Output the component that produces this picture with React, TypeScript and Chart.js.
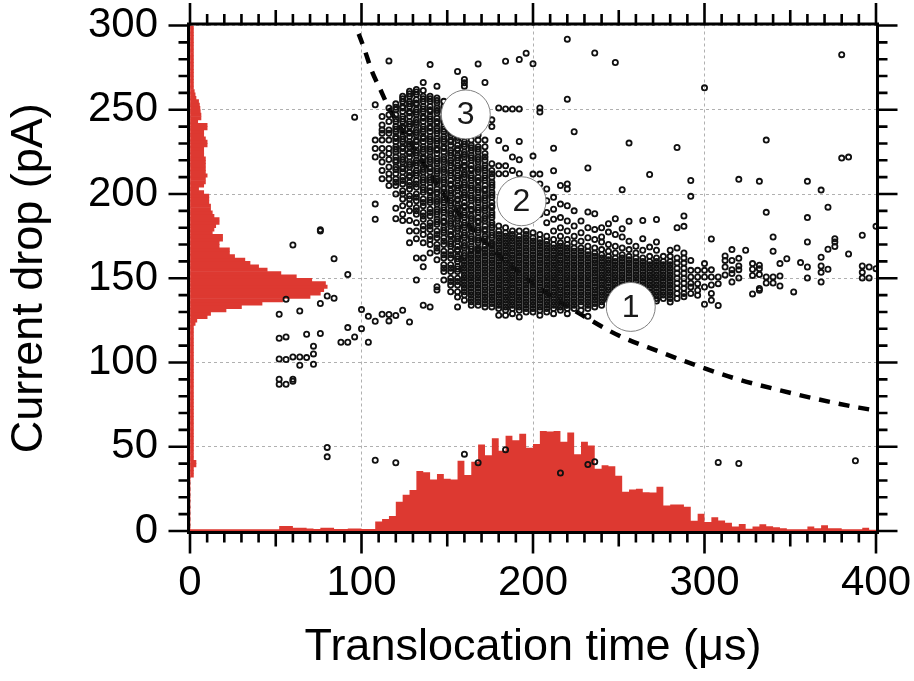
import React, { useEffect, useRef } from 'react';
import { Chart, registerables } from 'chart.js';

Chart.register(...registerables);

const FONT = '"Liberation Sans", Arial, Helvetica, sans-serif';
const RED = 'rgb(221, 57, 49)';

// Translocation-time histogram: counts per 4 µs bin, first bin starts at 0 µs
const timeBinWidth = 4;
const timeCounts = [
  1, 1, 1, 1, 1, 1, 1, 1, 1, 1, 1, 1, 1,
  3, 3, 2, 2, 1.5, 1.2, 2, 2, 1.2, 1.2, 1.5, 1.5, 1.2, 1.2,
  5.7, 7.1, 8.9, 17.4, 21.5, 24.3, 35.6, 34.8, 30.6, 33.8, 31, 30.6, 41.7, 33.2, 41.1,
  51.4, 45, 55, 47.6, 56.5, 53.8, 57.7, 49.4, 51.6, 59.3, 59.1, 59.3, 53, 58.5, 45.5,
  53, 50.8, 37, 39, 38.5, 32.8, 23.3, 24.7, 25.1, 23, 22.9, 26.3, 15.2, 15.8, 15.8,
  14.4, 6.1, 10.3, 5.3, 8.1, 6.3, 4.9, 2.6, 4.2, 1.4, 2.6, 4, 2.8, 2.2, 1.6, 1, 1, 1,
  2.6, 1.6, 3.4, 1.6, 1.6, 1, 1, 1, 2, 0.8,
];

// Current-drop histogram: counts per 2 pA bin, first bin starts at 0 pA
const dropBinWidth = 2;
const dropCounts = [
  0, 0, 0, 0, 0, 0, 0, 0, 0, 0, 0, 0, 0, 0, 0, 0,
  2, 2, 2, 3.5, 3.5,
  2, 2, 2, 2, 2, 2, 2, 2, 2, 2, 2, 2, 2, 2, 2, 2, 2, 2, 2, 2,
  2, 2, 2, 2, 2, 2, 2, 2, 2, 2, 2, 2, 2, 2, 2, 2, 2, 2, 2, 2,
  3, 4, 10, 12, 21, 30, 42, 54, 70, 76, 78, 80, 79, 71, 62, 53, 45, 40, 35, 32,
  26, 23, 23, 17, 17, 19, 19, 13, 14, 15, 17, 17, 14, 13, 12, 12, 11, 11, 11,
  8, 5, 8, 9, 9, 10, 9, 9, 9, 9, 9, 8, 8, 8, 10, 10, 9, 8, 8, 10, 10,
  4.5, 6.4, 6.4, 6, 5.8, 5.5, 5, 3.5, 3, 2.5,
  2, 2, 2, 2, 2, 2, 2, 2, 2, 2, 2, 2, 2, 2, 2, 2, 2, 2, 2,
];

// Isolated short events (time µs, drop pA)
const sparseEvents: [number, number][] = [
  [52, 128.6], [52, 114.4], [52, 102.1], [52, 90.1], [52, 87.1],
  [56, 137.5], [56, 115.2], [56, 101.8], [56, 87.1],
  [60, 169.7], [60, 103.3], [60, 90.1], [60, 88.9],
  [64, 130.6], [64, 103.3], [64, 98.4],
  [68, 116.8], [68, 102.9],
  [72, 109.7], [72, 105.1], [72, 99],
  [76, 178.8], [76, 178], [76, 135], [76, 117.2],
  [80, 139.5], [80, 49.6], [80, 44],
  [84, 161.6], [84, 138.1],
  [88, 112],
  [92, 152.2], [92, 120.7], [92, 112],
  [96, 245.6], [96, 115.2],
  [100, 131.4], [100, 120.1],
  [104, 127.4], [104, 112],
];

// Events grouped by sampled dwell time (µs) -> current drops (pA)
const clusterColumns: [number, number[]][] = [
  [108, [253, 232, 227, 222, 194, 185, 124.5, 42]],
  [112, [246, 241, 238, 236, 232, 227, 223, 219, 214, 209, 128.6]],
  [116, [279, 251, 247, 243, 238, 236, 232, 227, 224, 220.5, 216, 212, 209, 205, 128.5, 124.7]],
  [120, [253.5, 250, 247, 243, 240, 237, 234, 231, 228, 225, 222, 219, 216, 212, 209, 205, 200, 191.5, 185.3, 127.9, 40.5]],
  [124, [258, 255, 252, 249, 246, 243, 240, 237, 234, 231, 228, 225, 222, 219, 216, 213, 210, 206, 202, 197, 193, 188, 184.3, 131]],
  [128, [261, 258, 255, 252, 249, 246, 243, 240, 237, 234, 231, 228, 225, 222, 219, 216, 213, 210, 207, 203, 199, 194, 190, 184.3, 178, 171, 124]],
  [132, [262, 259, 256, 253, 250, 247, 244, 241, 238, 235, 232, 229, 226, 223, 220, 217, 214, 211, 208, 204, 200, 196, 192, 188, 183, 178, 173.5, 162, 149]],
  [136, [266.2, 261.4, 258, 255, 252, 249, 246, 243, 240, 237, 234, 231, 228, 225, 222, 219, 216, 213, 210, 207, 204, 201, 197, 193, 189, 185, 181, 176, 171, 162, 156.8, 134]],
  [140, [276.8, 258, 255, 252, 249, 246, 243, 240, 237, 234, 231, 228, 225, 222, 219, 216, 213, 210, 207, 204, 201, 198, 195, 191, 187, 183, 179, 175, 170, 165, 133]],
  [144, [264, 257, 254, 251, 248, 245, 242, 239, 236, 233, 230, 227, 224, 221, 218, 215, 212, 209, 206, 203, 200, 197, 194, 191, 188, 185, 182, 178, 174, 170, 166, 161, 145, 143]],
  [148, [255, 252, 249, 246, 243, 240, 237, 234, 231, 228, 225, 222, 219, 216, 213, 210, 207, 204, 201, 198, 195, 192, 189, 186, 183, 180, 177, 174, 170, 166, 162, 158, 154, 149]],
  [152, [253, 250, 247, 244, 241, 238, 235, 232, 229, 226, 223, 220, 217, 214, 211, 208, 205, 202, 199, 196, 193, 190, 187, 184, 181, 178, 175, 172, 169, 166, 162, 158, 154, 150, 146, 142]],
  [156, [272.7, 250, 247, 244, 241, 238, 235, 232, 229, 226, 223, 220, 217, 214, 211, 208, 205, 202, 199, 196, 193, 190, 187, 184, 181, 178, 175, 172, 169, 166, 163, 160, 157, 154, 150, 146, 142, 138.8, 133]],
  [160, [268, 266, 264, 258, 246, 234, 231, 228, 225, 222, 219, 216, 213, 210, 207, 204, 201, 198, 195, 192, 189, 186, 183, 180, 177, 174, 171, 168, 165, 162, 160, 158, 156, 154, 152, 150, 148, 146, 144, 142, 140, 137, 45.6]],
  [164, [232, 229, 226, 223, 220, 217, 214, 211, 208, 205, 202, 199, 196, 193, 190, 187, 184, 181, 178, 175, 172, 169, 166, 164, 162, 160, 158, 156, 154, 152, 150, 148, 146, 144, 142, 140, 138, 136, 134]],
  [168, [277.2, 235, 232, 228, 225, 222, 219, 216, 213, 210, 207, 204, 201, 198, 195, 192, 189, 186, 183, 180, 177, 174, 171, 168, 166, 164, 162, 160, 158, 156, 154, 152, 150, 148, 146, 144, 142, 140, 138, 136, 134, 40.5]],
  [172, [266.2, 232, 228, 224, 220, 217, 214, 211, 208, 205, 202, 199, 196, 193, 190, 187, 184, 181, 178, 175, 172, 169, 167, 165, 163, 161, 159, 157, 155, 153, 151, 149, 147, 145, 143, 141, 139, 137, 135, 133]],
  [176, [244, 240, 218, 214, 210, 207, 204, 201, 198, 195, 192, 189, 186, 183, 180, 177, 174, 171, 169, 167, 165, 163, 161, 159, 157, 155, 153, 151, 149, 147, 145, 143, 141, 139, 137, 135, 133]],
];

// Repeat events in the crowded part of the long-dwell population
const clusterRepeats: [number, number[]][] = [
  [120, [251.5, 244.5, 238.5, 233, 226.5, 220, 214.5, 207]],
  [124, [256.5, 251, 244.5, 239, 232.5, 227, 220.5, 215, 208, 200]],
  [128, [259.5, 253.5, 248, 241.5, 236, 229.5, 224, 217.5, 211, 205, 197]],
  [132, [260.5, 254, 248.5, 242.5, 236.5, 231, 224.5, 218.5, 212.5, 206, 198, 190]],
  [136, [256.5, 250.5, 245, 238.5, 233, 226.5, 221, 214.5, 208.5, 202.5, 195, 187, 179]],
  [140, [256.5, 250, 244.5, 239, 232.5, 226.5, 220.5, 215, 208.5, 202, 196.5, 189, 181, 173]],
  [144, [255.5, 249.5, 243, 237.5, 231.5, 226, 219.5, 213.5, 207.5, 201, 195.5, 189.5, 183.5, 176, 168]],
  [148, [250.5, 244, 238.5, 232.5, 227, 220.5, 214.5, 208.5, 203, 196.5, 190.5, 184, 178.5, 172, 164, 156]],
  [152, [248.5, 242.5, 236.5, 231, 224.5, 218.5, 212.5, 206, 200.5, 194.5, 188.5, 182.5, 176, 170.5, 164, 156, 148]],
  [156, [245.5, 239.5, 233.5, 227, 221.5, 215.5, 209.5, 203.5, 197, 191.5, 185.5, 179.5, 173.5, 167, 161.5, 155.5, 148]],
  [160, [229.5, 223.5, 217, 211.5, 205.5, 199.5, 193, 187.5, 181.5, 175.5, 169.5, 163.5]],
  [164, [227.5, 221.5, 215, 209.5, 203.5, 197.5, 191, 185.5, 179.5, 173.5, 167.5]],
  [168, [226.5, 220.5, 214.5, 208, 202.5, 196.5, 190.5, 184, 178.5, 172.5, 167]],
  [172, [222, 215.5, 209.5, 203, 197.5, 191.5, 185.5, 179, 173.5]],
  [176, [212, 205.5, 199.5, 193, 187.5, 181.5, 175.5, 170]],
];

const bandColumns: [number, number[]][] = [
  [180, [251.1, 231.8, 216.7, 212, 181, 178, 176, 174, 172, 170, 168, 166, 164, 162, 160, 158, 156, 154, 152, 150, 148, 146, 144, 142, 140, 138, 136, 134, 132, 128]],
  [184, [278.8, 250.5, 227.2, 216.7, 212, 180, 177, 175, 173, 171, 169, 167, 165, 163, 161, 159, 157, 155, 153, 151, 149, 147, 145, 143, 141, 139, 137, 135, 133, 131, 128, 48.2]],
  [188, [250.5, 222, 214, 178, 176, 174, 172, 170, 168, 166, 164, 162, 160, 158, 156, 154, 152, 150, 148, 146, 144, 142, 140, 138, 136, 134, 132, 129]],
  [192, [279.8, 250.5, 231.2, 220.3, 212, 178, 175, 173, 171, 169, 167, 165, 163, 161, 159, 157, 155, 153, 151, 149, 147, 145, 143, 141, 139, 137, 135, 133, 131, 127]],
  [196, [283.6, 178, 176, 174, 172, 170, 168, 166, 164, 162, 160, 158, 156, 154, 152, 150, 148, 146, 144, 142, 140, 138, 136, 134, 132, 130]],
  [200, [277.3, 222.5, 211.8, 177, 174, 172, 170, 168, 166, 164, 162, 160, 158, 156, 154, 152, 150, 148, 146, 144, 142, 140, 138, 136, 134, 132, 130]],
  [204, [251, 248.6, 211.8, 206, 188, 176, 173, 171, 169, 167, 165, 163, 161, 159, 157, 155, 153, 151, 149, 147, 145, 143, 141, 139, 137, 135, 133, 131, 128]],
  [208, [203, 196, 189, 183, 175, 172, 170, 168, 166, 164, 162, 160, 158, 156, 154, 152, 150, 148, 146, 144, 142, 140, 138, 136, 134, 132, 130]],
  [212, [227.2, 213.8, 198, 191, 185, 178, 173, 170, 168, 166, 164, 162, 160, 158, 156, 154, 152, 150, 148, 146, 144, 142, 140, 138, 136, 134, 132, 129]],
  [216, [205, 194, 186, 180, 175, 171, 169, 167, 165, 163, 161, 159, 157, 155, 153, 151, 149, 147, 145, 143, 141, 139, 137, 135, 133, 131, 34.4]],
  [220, [291.9, 256.3, 206, 203, 193, 184, 178, 173, 170, 168, 166, 164, 162, 160, 158, 156, 154, 152, 150, 148, 146, 144, 142, 140, 138, 136, 134, 132, 129]],
  [224, [236.9, 190, 181, 175, 171, 168, 166, 164, 162, 160, 158, 156, 154, 152, 150, 148, 146, 144, 142, 140, 138, 136, 134, 132]],
  [228, [184, 177, 172, 168, 166, 164, 162, 160, 158, 156, 154, 152, 150, 148, 146, 144, 142, 140, 138, 136, 134, 131]],
  [232, [215.4, 189.3, 180, 174, 169, 166, 164, 162, 160, 158, 156, 154, 152, 150, 148, 146, 144, 142, 140, 138, 136, 134, 132, 127.4, 39.5]],
  [236, [283.7, 188.3, 179, 173, 168, 165, 163, 161, 159, 157, 155, 153, 151, 149, 147, 145, 143, 141, 139, 137, 135, 133, 41.1]],
  [240, [180, 174.5, 171.5, 167, 164, 162, 160, 158, 156, 154, 152, 150, 148, 146, 144, 142, 140, 138, 136, 134]],
  [244, [182.4, 177.4, 170, 166, 163, 161, 159, 157, 155, 153, 151, 149, 147, 145, 143, 141, 139, 137]],
  [248, [278, 185.3, 176, 169, 165, 162, 160, 158, 156, 154, 152, 150, 148, 146, 144, 142, 140, 138]],
  [252, [202.5, 179.4, 174.5, 168, 164, 162, 160, 158, 156, 154, 152, 150, 148, 146, 144, 142, 140, 138]],
  [256, [230.2, 183.8, 172, 167, 163, 161, 159, 157, 155, 153, 151, 149, 147, 145, 143, 141, 139, 137]],
  [260, [169, 165, 162, 160, 158, 156, 154, 152, 150, 148, 146, 144, 142, 140, 138, 136]],
  [264, [184.3, 173.5, 166.6, 162, 160, 158, 156, 154, 152, 150, 148, 146, 144, 142, 140, 138]],
  [268, [211.6, 168.5, 163, 160, 158, 156, 154, 152, 150, 148, 146, 144, 142, 140, 138, 136]],
  [272, [184.9, 171.5, 166.6, 162, 160, 158, 156, 154, 152, 150, 148, 146, 144, 142, 140, 138, 136.5]],
  [276, [163, 160, 158, 156, 154, 152, 150, 148, 146, 144, 142, 140, 138]],
  [280, [166.6, 163, 160, 158, 156, 154, 152, 150, 148, 146, 144, 142, 140, 138, 135.9]],
  [284, [227.6, 180, 168, 162, 159, 156, 153, 150, 147, 144, 141, 138]],
  [288, [186.9, 180.8, 165, 162, 159, 156, 153, 150, 147, 144, 141, 139]],
  [292, [208, 198.6, 160.6, 154.7, 150.7, 147, 144.8, 141]],
  [296, [154.7, 150.7, 146.8, 142.9, 139.9]],
  [300, [263, 158.7, 154.7, 150.7, 144.8, 134.6]],
];

const tailColumns: [number, number[]][] = [
  [304, [173.3, 155, 150.7, 146, 141, 136.9]],
  [308, [150.7, 146.8, 133.8, 40.7]],
  [312, [163.2, 160.6, 156.7, 152]],
  [316, [167, 160.6, 155.1, 152.8, 147.8]],
  [320, [208.7, 161.8, 157.3, 155.1, 150.2, 40.1]],
  [324, [166.6]],
  [328, [158.7, 155.3, 151.7, 140.7]],
  [332, [207.5, 157.7, 155.7, 152.2, 143.9, 142.9]],
  [336, [232, 189.1, 150.7, 147.2]],
  [340, [174.5, 166, 150.7, 147.2]],
  [344, [158.7, 151.3, 145.4]],
  [348, [161.6]],
  [352, [141.9]],
  [356, [159.3]],
  [360, [207.5, 186, 171.5, 156.7, 150.2]],
  [368, [202.3, 162.5, 157.3, 153.5, 147.8]],
  [372, [192.2, 167.2, 155.3]],
  [376, [173.5, 171.5, 168.8]],
  [380, [282.7, 221.3]],
  [384, [221.9, 164.4]],
  [388, [41.7]],
  [392, [175.5, 157.3, 153.5, 150.2]],
  [396, [156.7, 150.2]],
  [400, [180.8, 155.7]],
];

// Dashed guide curve (time µs, drop pA)
const curveTime = [94, 98, 102, 106, 111, 116, 130, 150, 170, 190, 210, 230, 250, 273, 297, 318, 342, 366, 390, 400];
const curveDrop = [306, 296, 285, 273, 262, 251, 228, 197, 173.6, 155, 139.8, 127.3, 116, 106.7, 97.6, 90.5, 84, 78.2, 73.2, 71.5];

// Numbered event populations
const regionLabels = ['1', '2', '3'];
const regionTime = [257, 193.3, 160.8];
const regionDrop = [133, 195.7, 247.2];

const xTickStep = 10;
const yTickStep = 10;

const eventPoints = [
  ...sparseEvents.map(([x, y]) => ({ x, y })),
  ...[...clusterColumns, ...clusterRepeats, ...bandColumns, ...tailColumns].flatMap(([x, ys]) =>
    ys.map((y) => ({ x, y })),
  ),
];

const timeHistData = [
  ...timeCounts.map((c, i) => ({ x: i * timeBinWidth, y: c })),
  { x: timeCounts.length * timeBinWidth, y: timeCounts[timeCounts.length - 1] },
];

const dropHistData = dropCounts.map((c, i) => ({ x: c, y: i * dropBinWidth + dropBinWidth / 2 }));

const curveData = curveTime.map((x, i) => ({ x, y: curveDrop[i] }));
const regionData = regionTime.map((x, i) => ({ x, y: regionDrop[i] }));

const frameAndTicks = {
  id: 'frameAndTicks',
  afterDatasetsDraw(chart: any) {
    const { ctx, chartArea, scales } = chart;
    const { left, right, top, bottom } = chartArea;
    const xs = scales.x;
    const ys = scales.y;
    ctx.save();
    ctx.strokeStyle = '#000';
    ctx.lineWidth = 2.6;
    ctx.beginPath();
    for (let v = xs.min; v <= xs.max; v += xTickStep) {
      const px = xs.getPixelForValue(v);
      const len = v % 100 === 0 ? 21 : v % 50 === 0 ? 14 : 10;
      ctx.moveTo(px, bottom);
      ctx.lineTo(px, bottom + 1.5 + len);
      ctx.moveTo(px, top);
      ctx.lineTo(px, top - 1.5 - len);
    }
    for (let v = ys.min; v <= ys.max; v += yTickStep) {
      const py = ys.getPixelForValue(v);
      const len = v % 50 === 0 ? 20 : 10;
      ctx.moveTo(left, py);
      ctx.lineTo(left - 1.5 - len, py);
      ctx.moveTo(right, py);
      ctx.lineTo(right + 1.5 + len, py);
    }
    ctx.stroke();
    ctx.lineWidth = 3;
    ctx.strokeRect(left - 1.5, top - 1.5, right - left + 3, bottom - top + 3);

    // numbers inside the population markers
    ctx.fillStyle = '#1a1a1a';
    ctx.font = `32px ${FONT}`;
    ctx.textAlign = 'center';
    ctx.textBaseline = 'middle';
    regionLabels.forEach((t, i) => {
      ctx.fillText(t, xs.getPixelForValue(regionTime[i]), ys.getPixelForValue(regionDrop[i]) + 1);
    });
    ctx.restore();
  },
};

// fixed axis boxes so the plot area sits at a set place in the canvas
const fixBox = (size: { width?: number; height?: number }) => (s: any) => {
  if (size.width !== undefined) s.width = size.width;
  if (size.height !== undefined) s.height = size.height;
  s.paddingTop = 0;
  s.paddingBottom = 0;
  s.paddingLeft = 0;
  s.paddingRight = 0;
};

export default function App() {
  const canvasRef = useRef<HTMLCanvasElement>(null);

  useEffect(() => {
    const canvas = canvasRef.current;
    if (!canvas) return;
    const gridOpts = { color: '#b0b0b0', lineWidth: 1, drawTicks: false };
    const borderOpts = { display: false, dash: [3, 3] };
    const chart = new Chart(canvas, {
      type: 'scatter',
      data: {
        datasets: [
          {
            type: 'scatter',
            data: regionData,
            pointRadius: 24.5,
            pointBackgroundColor: '#ffffff',
            pointBorderColor: '#808080',
            pointBorderWidth: 1,
            order: 0,
          },
          {
            type: 'scatter',
            data: eventPoints,
            pointRadius: 2.6,
            pointBorderWidth: 1.8,
            pointBorderColor: '#111111',
            pointBackgroundColor: 'rgba(0,0,0,0)',
            order: 1,
          },
          {
            type: 'line',
            data: curveData,
            borderColor: '#000000',
            borderWidth: 4.5,
            borderDash: [11, 9],
            cubicInterpolationMode: 'monotone',
            pointRadius: 0,
            fill: false,
            order: 2,
          },
          {
            type: 'line',
            data: timeHistData,
            stepped: 'before',
            fill: 'origin',
            backgroundColor: RED,
            borderWidth: 0,
            pointRadius: 0,
            order: 3,
          },
          {
            type: 'bar',
            indexAxis: 'y',
            yAxisID: 'y2',
            data: dropHistData,
            backgroundColor: RED,
            borderWidth: 0,
            barPercentage: 1,
            categoryPercentage: 1,
            order: 4,
          },
        ] as any,
      },
      options: {
        responsive: true,
        maintainAspectRatio: false,
        animation: false,
        events: [],
        layout: { padding: { top: 25, right: 38, left: 0, bottom: 0 } },
        plugins: { legend: { display: false }, tooltip: { enabled: false } },
        scales: {
          x: {
            type: 'linear',
            min: 0,
            max: 400,
            afterFit: fixBox({ height: 150 }),
            ticks: { stepSize: 100, color: '#000', font: { family: FONT, size: 42, lineHeight: 1 }, padding: 31, maxRotation: 0 },
            grid: gridOpts,
            border: borderOpts,
            title: {
              display: true,
              text: 'Translocation time (μs)',
              color: '#000',
              font: { family: FONT, size: 45, lineHeight: 1.2 },
              padding: { top: 0, bottom: 6 },
            },
          },
          y: {
            type: 'linear',
            min: 0,
            max: 300,
            afterFit: fixBox({ width: 190 }),
            ticks: { stepSize: 50, color: '#000', font: { family: FONT, size: 42, lineHeight: 1 }, padding: 32 },
            grid: gridOpts,
            border: borderOpts,
            title: {
              display: true,
              text: 'Current drop (pA)',
              color: '#000',
              font: { family: FONT, size: 45, lineHeight: 1.2 },
              padding: { top: 3, bottom: 0 },
            },
          },
          y2: { type: 'linear', display: false, min: 0, max: 300, offset: false },
        },
      } as any,
      plugins: [frameAndTicks],
    });
    return () => chart.destroy();
  }, []);

  return (
    <div style={{ position: 'fixed', left: 0, top: 0, width: 914, height: 681, background: '#ffffff' }}>
      <canvas ref={canvasRef} />
    </div>
  );
}
